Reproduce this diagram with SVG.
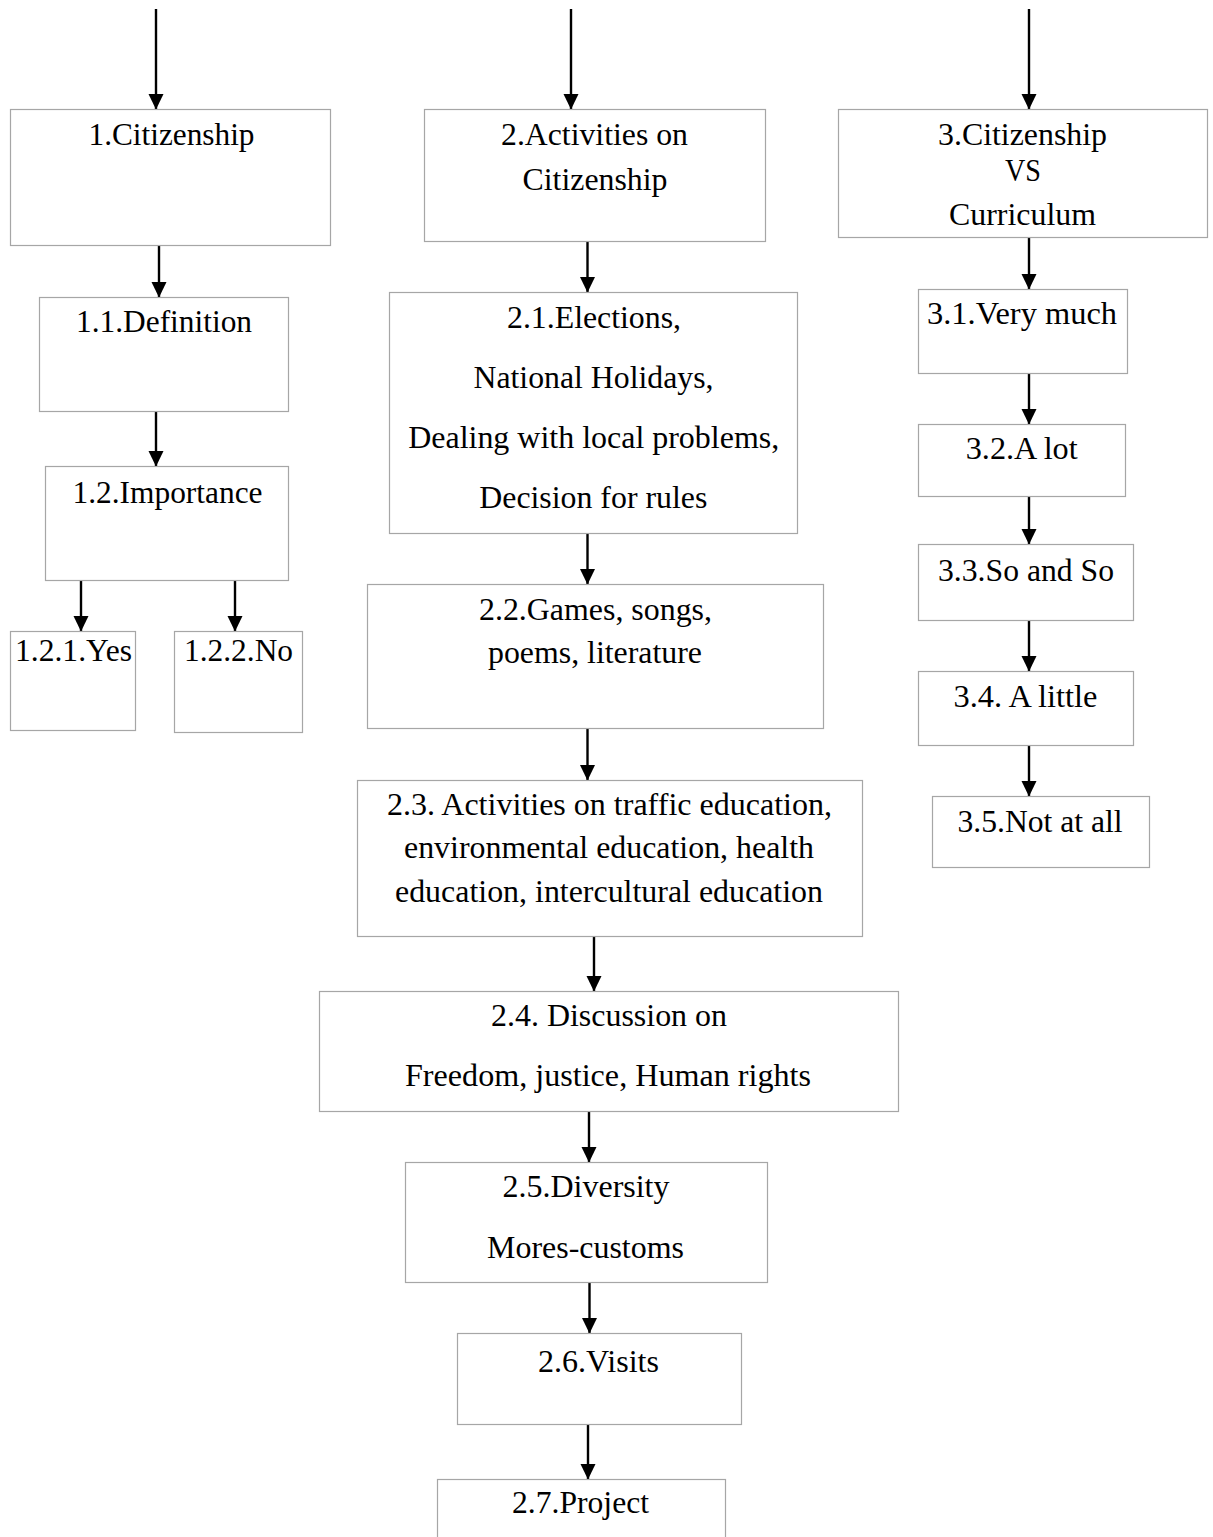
<svg xmlns="http://www.w3.org/2000/svg" width="1213" height="1537" viewBox="0 0 1213 1537">
<style>
.box{fill:#fff;stroke:#a6a6a6;stroke-width:1.2}
.t{font-family:"Liberation Serif","Times New Roman",serif;font-size:31px;fill:#000;text-anchor:middle}
.c{stroke:#000;stroke-width:2.4;fill:none}
</style>
<defs>
<marker id="ah" markerUnits="userSpaceOnUse" markerWidth="16" markerHeight="16" refX="15" refY="8" orient="auto">
<path d="M0,0.5 L15.5,8 L0,15.5 z" fill="#000"/>
</marker>
</defs>
<rect width="1213" height="1537" fill="#fff"/>
<g id="connectors">
<line class="c" x1="156" y1="9" x2="156" y2="109" marker-end="url(#ah)"/>
<line class="c" x1="571" y1="9" x2="571" y2="109" marker-end="url(#ah)"/>
<line class="c" x1="1029" y1="9" x2="1029" y2="109" marker-end="url(#ah)"/>
<line class="c" x1="159" y1="246" x2="159" y2="297" marker-end="url(#ah)"/>
<line class="c" x1="156" y1="412" x2="156" y2="466" marker-end="url(#ah)"/>
<line class="c" x1="81" y1="581" x2="81" y2="631" marker-end="url(#ah)"/>
<line class="c" x1="235" y1="581" x2="235" y2="631" marker-end="url(#ah)"/>
<line class="c" x1="587.5" y1="242" x2="587.5" y2="292" marker-end="url(#ah)"/>
<line class="c" x1="587.5" y1="534" x2="587.5" y2="584" marker-end="url(#ah)"/>
<line class="c" x1="587.5" y1="729" x2="587.5" y2="780" marker-end="url(#ah)"/>
<line class="c" x1="594" y1="937" x2="594" y2="991" marker-end="url(#ah)"/>
<line class="c" x1="589" y1="1112" x2="589" y2="1162" marker-end="url(#ah)"/>
<line class="c" x1="589.5" y1="1283" x2="589.5" y2="1333" marker-end="url(#ah)"/>
<line class="c" x1="588" y1="1425" x2="588" y2="1479" marker-end="url(#ah)"/>
<line class="c" x1="1029" y1="238" x2="1029" y2="289" marker-end="url(#ah)"/>
<line class="c" x1="1029" y1="374" x2="1029" y2="424" marker-end="url(#ah)"/>
<line class="c" x1="1029" y1="497" x2="1029" y2="544" marker-end="url(#ah)"/>
<line class="c" x1="1029" y1="621" x2="1029" y2="671" marker-end="url(#ah)"/>
<line class="c" x1="1029" y1="746" x2="1029" y2="796" marker-end="url(#ah)"/>
</g>
<g id="n1"><rect class="box" x="10.5" y="109.5" width="320" height="136"/><text class="t" x="171.5" y="145" textLength="166" lengthAdjust="spacingAndGlyphs">1.Citizenship</text></g>
<g id="n1_1"><rect class="box" x="39.5" y="297.5" width="249" height="114"/><text class="t" x="164" y="332" textLength="176" lengthAdjust="spacingAndGlyphs">1.1.Definition</text></g>
<g id="n1_2"><rect class="box" x="45.5" y="466.5" width="243" height="114"/><text class="t" x="167.5" y="502.5" textLength="190" lengthAdjust="spacingAndGlyphs">1.2.Importance</text></g>
<g id="n1_2_1"><rect class="box" x="10.5" y="631.5" width="125" height="99"/><text class="t" x="73.5" y="660.5" textLength="117" lengthAdjust="spacingAndGlyphs">1.2.1.Yes</text></g>
<g id="n1_2_2"><rect class="box" x="174.5" y="631.5" width="128" height="101"/><text class="t" x="238.5" y="660.5" textLength="109" lengthAdjust="spacingAndGlyphs">1.2.2.No</text></g>
<g id="n2"><rect class="box" x="424.5" y="109.5" width="341" height="132"/><text class="t" x="594.5" y="144.5" textLength="187" lengthAdjust="spacingAndGlyphs">2.Activities on</text><text class="t" x="595" y="189.5" textLength="145" lengthAdjust="spacingAndGlyphs">Citizenship</text></g>
<g id="n2_1"><rect class="box" x="389.5" y="292.5" width="408" height="241"/><text class="t" x="594" y="327.5" textLength="174" lengthAdjust="spacingAndGlyphs">2.1.Elections,</text><text class="t" x="593.5" y="387.5" textLength="240" lengthAdjust="spacingAndGlyphs">National Holidays,</text><text class="t" x="593.7" y="447.5" textLength="371" lengthAdjust="spacingAndGlyphs">Dealing with local problems,</text><text class="t" x="593.3" y="507.5" textLength="228" lengthAdjust="spacingAndGlyphs">Decision for rules</text></g>
<g id="n2_2"><rect class="box" x="367.5" y="584.5" width="456" height="144"/><text class="t" x="595.5" y="620" textLength="233" lengthAdjust="spacingAndGlyphs">2.2.Games, songs,</text><text class="t" x="595" y="663.3" textLength="214" lengthAdjust="spacingAndGlyphs">poems, literature</text></g>
<g id="n2_3"><rect class="box" x="357.5" y="780.5" width="505" height="156"/><text class="t" x="609.5" y="815" textLength="445" lengthAdjust="spacingAndGlyphs">2.3. Activities on traffic education,</text><text class="t" x="609" y="858.3" textLength="410" lengthAdjust="spacingAndGlyphs">environmental education, health</text><text class="t" x="609" y="901.7" textLength="428" lengthAdjust="spacingAndGlyphs">education, intercultural education</text></g>
<g id="n2_4"><rect class="box" x="319.5" y="991.5" width="579" height="120"/><text class="t" x="609" y="1025.7" textLength="236" lengthAdjust="spacingAndGlyphs">2.4. Discussion on</text><text class="t" x="608" y="1085.7" textLength="406" lengthAdjust="spacingAndGlyphs">Freedom, justice, Human rights</text></g>
<g id="n2_5"><rect class="box" x="405.5" y="1162.5" width="362" height="120"/><text class="t" x="586" y="1196.7" textLength="167" lengthAdjust="spacingAndGlyphs">2.5.Diversity</text><text class="t" x="585.5" y="1257.7" textLength="197" lengthAdjust="spacingAndGlyphs">Mores-customs</text></g>
<g id="n2_6"><rect class="box" x="457.5" y="1333.5" width="284" height="91"/><text class="t" x="598.5" y="1371.5" textLength="121" lengthAdjust="spacingAndGlyphs">2.6.Visits</text></g>
<g id="n2_7"><rect class="box" x="437.5" y="1479.5" width="288" height="70"/><text class="t" x="580.5" y="1513.3" textLength="137" lengthAdjust="spacingAndGlyphs">2.7.Project</text></g>
<g id="n3"><rect class="box" x="838.5" y="109.5" width="369" height="128"/><text class="t" x="1022.5" y="144.5" textLength="169" lengthAdjust="spacingAndGlyphs">3.Citizenship</text><text class="t" x="1023" y="181" textLength="36" lengthAdjust="spacingAndGlyphs">VS</text><text class="t" x="1022.5" y="225" textLength="147" lengthAdjust="spacingAndGlyphs">Curriculum</text></g>
<g id="n3_1"><rect class="box" x="918.5" y="289.5" width="209" height="84"/><text class="t" x="1022" y="324.3" textLength="190" lengthAdjust="spacingAndGlyphs">3.1.Very much</text></g>
<g id="n3_2"><rect class="box" x="918.5" y="424.5" width="207" height="72"/><text class="t" x="1021.7" y="459" textLength="112" lengthAdjust="spacingAndGlyphs">3.2.A lot</text></g>
<g id="n3_3"><rect class="box" x="918.5" y="544.5" width="215" height="76"/><text class="t" x="1026" y="580.7" textLength="176" lengthAdjust="spacingAndGlyphs">3.3.So and So</text></g>
<g id="n3_4"><rect class="box" x="918.5" y="671.5" width="215" height="74"/><text class="t" x="1025.5" y="706.7" textLength="144" lengthAdjust="spacingAndGlyphs">3.4. A little</text></g>
<g id="n3_5"><rect class="box" x="932.5" y="796.5" width="217" height="71"/><text class="t" x="1040" y="832" textLength="165" lengthAdjust="spacingAndGlyphs">3.5.Not at all</text></g>
</svg>
